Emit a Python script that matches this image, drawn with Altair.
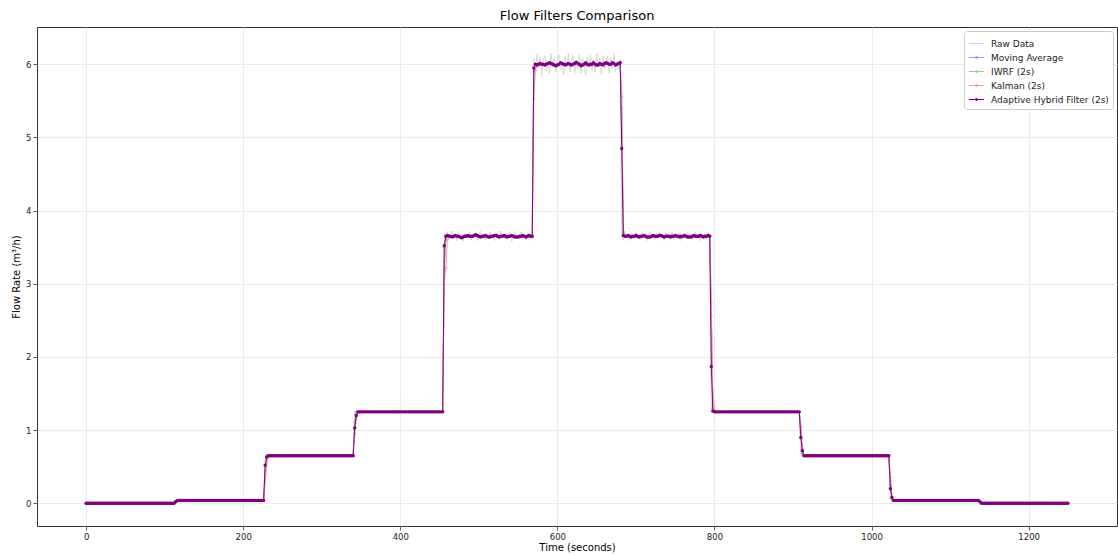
import bisect
import altair as alt
import pandas as pd

# Step profile of the test run: segment edges (s) and flow level (m³/h) of each step
edges = [0, 113.6, 227.3, 340.9, 454.5, 568.2, 681.8, 795.5, 909.1, 1022.7, 1136.4, 1250]
levels = [0.00, 0.04, 0.65, 1.25, 3.65, 6.00, 3.65, 1.25, 0.65, 0.04, 0.00]
sample_step = 2  # seconds between samples

# Sensor noise on the high-flow plateaus (deviation from the step level)
raw_noise = {
    4: [0.04, -0.03, 0.06, -0.05, 0.02, 0.07, -0.04, 0.01, -0.06, 0.05, -0.02, 0.03, -0.07, 0.04,
        0.00, -0.03, 0.06, -0.05, 0.02, -0.01, 0.05, -0.06, 0.03, 0.07, -0.04, 0.01, -0.05, 0.04,
        -0.02, 0.06, -0.03, 0.02, -0.06, 0.05, 0.01, -0.04, 0.07, -0.02, 0.03, -0.05, 0.04, -0.01,
        0.06, -0.07, 0.02, 0.05, -0.03, 0.00, -0.04, 0.06, -0.02, 0.03, -0.05, 0.04, -0.01, 0.02, -0.03],
    5: [0.08, -0.12, 0.14, -0.05, 0.10, -0.15, 0.06, 0.12, -0.09, 0.03, -0.13, 0.15, -0.04, 0.09,
        -0.11, 0.07, 0.13, -0.08, 0.02, -0.14, 0.11, -0.06, 0.15, -0.10, 0.05, 0.12, -0.13, 0.04,
        -0.07, 0.14, -0.12, 0.09, 0.01, -0.15, 0.10, -0.05, 0.13, -0.09, 0.06, -0.11, 0.15, -0.03,
        0.08, -0.14, 0.12, -0.07, 0.04, 0.11, -0.12, 0.09, -0.06, 0.14, -0.10, 0.05, -0.08, 0.07],
    6: [0.03, -0.05, 0.06, -0.02, 0.04, -0.06, 0.05, 0.01, -0.04, 0.06, -0.03, 0.02, -0.05, 0.05,
        -0.01, 0.04, -0.06, 0.03, 0.06, -0.04, 0.02, -0.05, 0.04, -0.02, 0.06, -0.03, 0.01, -0.06,
        0.05, -0.02, 0.03, -0.04, 0.06, -0.05, 0.02, 0.04, -0.03, 0.05, -0.06, 0.01, 0.03, -0.04,
        0.06, -0.02, 0.04, -0.05, 0.02, 0.05, -0.03, 0.01, -0.06, 0.04, -0.02, 0.03, -0.04, 0.05, -0.01],
}

# Residual ripple of the filtered signals on the same plateaus
filt_ripple = {
    4: [-0.01, 0.00, 0.01, 0.00, 0.00, -0.01, 0.00, 0.01, 0.00, 0.00, -0.01, -0.02, -0.01, 0.00,
        0.00, 0.01, 0.00, 0.00, 0.00, 0.01, 0.02, 0.01, 0.00, -0.01, 0.00, 0.00, 0.01, 0.00, -0.01,
        -0.01, 0.00, 0.00, 0.01, 0.01, 0.00, -0.01, 0.00, 0.00, 0.01, 0.00, -0.01, 0.00, 0.00, 0.01,
        0.00, -0.01, -0.01, -0.01, 0.00, 0.00, 0.01, 0.00, -0.01, 0.00, 0.01, 0.00, 0.00],
    5: [0.01, 0.00, -0.01, 0.00, 0.01, 0.00, 0.00, -0.01, 0.00, 0.01, 0.02, 0.01, 0.00, -0.01,
        -0.02, -0.01, 0.00, 0.02, 0.01, 0.00, -0.01, 0.00, 0.01, 0.00, -0.01, 0.00, 0.01, 0.03,
        0.01, 0.00, -0.02, -0.01, 0.00, 0.02, 0.00, -0.01, 0.00, 0.00, 0.02, 0.00, -0.01, -0.01,
        0.01, 0.00, -0.01, 0.01, 0.02, 0.01, 0.00, 0.00, 0.02, 0.01, -0.01, 0.00, 0.01, 0.02],
    6: [0.01, 0.00, 0.00, 0.00, 0.01, 0.00, -0.01, 0.00, 0.00, 0.01, 0.00, -0.01, 0.00, 0.00,
        0.01, 0.00, -0.01, -0.01, -0.01, 0.00, 0.01, 0.00, 0.00, 0.00, 0.01, 0.01, 0.00, -0.01,
        0.00, 0.00, 0.00, -0.01, 0.00, 0.00, 0.01, 0.00, 0.00, -0.01, 0.00, 0.00, 0.01, 0.00,
        -0.01, -0.01, -0.01, 0.00, 0.01, 0.00, 0.00, 0.00, 0.01, 0.00, -0.01, 0.00, 0.00, 0.01, 0.00],
}

series_names = ["Raw Data", "Moving Average", "IWRF (2s)", "Kalman (2s)", "Adaptive Hybrid Filter (2s)"]
series_colors = ["#d6d6d6", "#9a9aff", "#8fcf8f", "#ff9a9a", "#800080"]
series_widths = [1.0, 1.0, 1.0, 1.0, 3.0]

# Filter outputs on the first samples after each step edge (segment index -> values)
transients = {
    "Moving Average": {1: [0.03], 2: [0.40], 3: [1.10], 4: [3.20, 3.60], 5: [5.90],
                       6: [5.56, 3.70], 7: [2.75, 1.30], 8: [1.05, 0.68], 9: [0.35, 0.06], 10: [0.02]},
    "IWRF (2s)": {1: [0.03], 2: [0.45], 3: [1.12], 4: [3.30, 3.62], 5: [5.95],
                  6: [5.00, 3.68], 7: [2.30, 1.28], 8: [0.95, 0.67], 9: [0.25, 0.06], 10: [0.02]},
    "Kalman (2s)": {1: [0.02, 0.035], 2: [0.30, 0.55], 3: [0.95, 1.15], 4: [3.00, 3.22, 3.60],
                    5: [5.53, 5.92], 6: [5.40, 3.72], 7: [2.57, 1.52, 1.28], 8: [1.00, 0.75],
                    9: [0.30, 0.10], 10: [0.02]},
    "Adaptive Hybrid Filter (2s)": {1: [0.02, 0.035], 2: [0.52, 0.63], 3: [1.03, 1.20],
                                    4: [3.52, 3.65], 5: [5.95], 6: [4.85, 3.66],
                                    7: [1.87, 1.26], 8: [0.90, 0.72], 9: [0.20, 0.08], 10: [0.02]},
}

rows = []
seg_counter = {}
for t in range(0, 1251, sample_step):
    seg = min(bisect.bisect_right(edges, t) - 1, len(levels) - 1)
    k = seg_counter.get(seg, 0)
    seg_counter[seg] = k + 1
    level = levels[seg]
    noise = raw_noise.get(seg, [])
    ripple = filt_ripple.get(seg, [])
    rows.append({"t": t, "flow": level + (noise[k] if k < len(noise) else 0.0), "series": "Raw Data"})
    for name in series_names[1:]:
        early = transients[name].get(seg, [])
        if k < len(early):
            v = early[k]
        else:
            v = level + (ripple[k] if k < len(ripple) else 0.0)
        rows.append({"t": t, "flow": v, "series": name})

df = pd.DataFrame(rows)

font = "DejaVu Sans"
x_enc = alt.X("t:Q", title="Time (seconds)",
              scale=alt.Scale(domain=[-62.5, 1312.5], nice=False, zero=False),
              axis=alt.Axis(values=[0, 200, 400, 600, 800, 1000, 1200], format="d", titlePadding=2))
y_enc = alt.Y("flow:Q", title="Flow Rate (m³/h)",
              scale=alt.Scale(domain=[-0.31, 6.51], nice=False, zero=False),
              axis=alt.Axis(values=[0, 1, 2, 3, 4, 5, 6], format="d", titlePadding=4))

# Legend keys: plain line for the raw signal, line with a marker dot for the filters;
# the thick filter line gets a heavier key
plain_key = "M-1,0L1,0"
dot_key = "M-1,0L1,0M-0.14,0a0.14,0.14 0 1,0 0.28,0a0.14,0.14 0 1,0 -0.28,0"
raw_name = series_names[0]
thick_name = series_names[-1]
color_enc = alt.Color(
    "series:N", title=None,
    scale=alt.Scale(domain=series_names, range=series_colors),
    sort=series_names,
    legend=alt.Legend(
        symbolType=alt.ExprRef(f"datum.value === '{raw_name}' ? '{plain_key}' : '{dot_key}'"),
        symbolStrokeWidth=alt.ExprRef(f"datum.value === '{thick_name}' ? 2.2 : 1"),
    ),
)
width_enc = alt.StrokeWidth("series:N", legend=None,
                            scale=alt.Scale(domain=series_names, range=series_widths))

layers = []
for name in series_names:
    sub = df[df["series"] == name]
    if name == raw_name:
        mark = alt.Chart(sub).mark_line(clip=True)
    elif name == thick_name:
        mark = alt.Chart(sub).mark_line(
            clip=True, point=alt.OverlayMarkDef(filled=True, size=12, color="#5c005c", clip=True))
    else:
        mark = alt.Chart(sub).mark_line(
            clip=True, point=alt.OverlayMarkDef(filled=True, size=6, clip=True))
    layers.append(mark.encode(x=x_enc, y=y_enc, color=color_enc, strokeWidth=width_enc))

chart = alt.layer(*layers).properties(
    width=1118,
    height=555,
    autosize=alt.AutoSizeParams(type="fit", contains="padding"),
    padding={"left": 11, "top": 10, "right": 1, "bottom": 2},
    title=alt.TitleParams("Flow Filters Comparison", fontSize=13, font=font,
                          fontWeight="normal", anchor="middle", offset=4, color="#000"),
).configure_view(
    stroke="#333", strokeWidth=1
).configure_axis(
    domain=False,
    grid=True, gridColor="#e6e6e6", gridWidth=0.8,
    tickColor="#333", tickSize=4, tickWidth=0.8,
    labelFont=font, labelFontSize=8.5, labelColor="#222", labelPadding=2,
    titleFont=font, titleFontSize=10, titleFontWeight="normal", titleColor="#000",
).configure_legend(
    orient="top-right", offset=4,
    fillColor="white", strokeColor="#cccccc", cornerRadius=3, padding=4,
    labelFont=font, labelFontSize=9, labelColor="#222",
    symbolSize=230, rowPadding=0, labelOffset=6,
)

chart.save("out.html", embed_options={"renderer": "svg", "actions": False})
